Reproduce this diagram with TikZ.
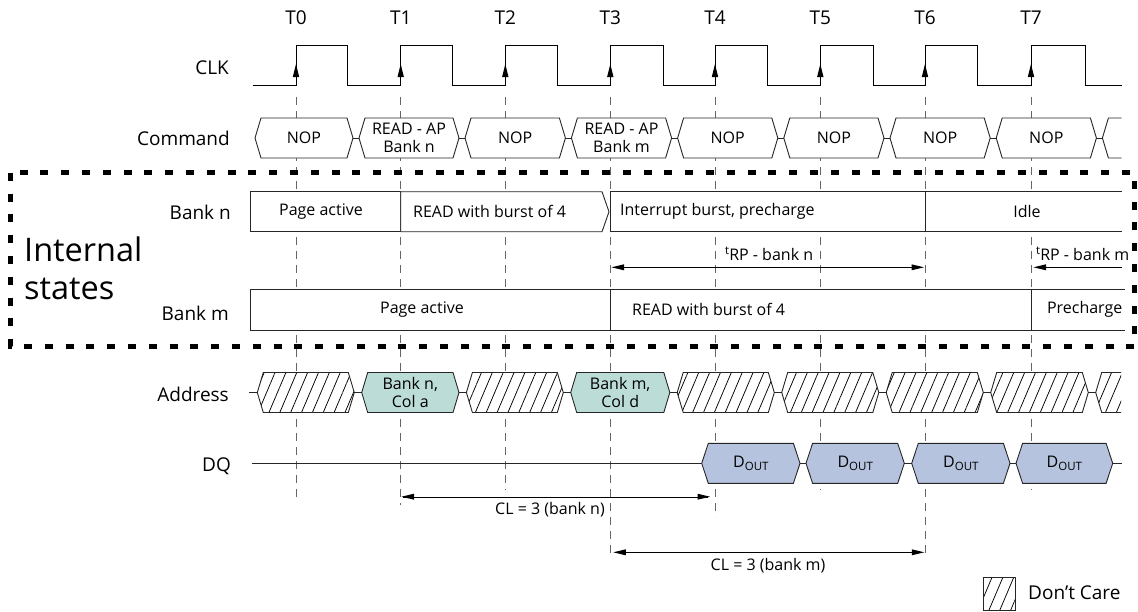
\documentclass[tikz,border=0pt]{standalone}
\usepackage{fontspec}
\setmainfont{Open Sans}
\usetikzlibrary{patterns.meta}
\definecolor{doutblue}{RGB}{181,195,222}
\definecolor{addrteal}{RGB}{188,221,215}
\begin{document}
\begin{tikzpicture}[x=1pt,y=1pt]
\tikzstyle{every node}+=[inner sep=0pt]
\tikzstyle{sig}=[font=\fontsize{19}{20}\selectfont,anchor=east]
\tikzstyle{val}=[font=\fontsize{16}{17.5}\selectfont,align=center]
\tikzstyle{edge}=[black!60,line width=0.8pt,dash pattern=on 8pt off 6pt]
\tikzstyle{bus}=[black!85,line width=0.9pt]
\tikzstyle{dc}=[bus,preaction={fill=white},pattern={Lines[angle=67,distance=10pt,line width=0.75pt]}]
\useasboundingbox (0,0) rectangle (1138,-611);
% clock edge lines
\draw [edge] (296,-97) -- (296,-502);
\draw [edge] (400.7,-97) -- (400.7,-505);
\draw [edge] (505.3,-97) -- (505.3,-490);
\draw [edge] (610.3,-97) -- (610.3,-555);
\draw [edge] (715,-97) -- (715,-517);
\draw [edge] (820.3,-97) -- (820.3,-490);
\draw [edge] (925,-97) -- (925,-555);
\draw [edge] (1031,-97) -- (1031,-490);
% clock
\node (t0) [font=\fontsize{19}{20}\selectfont] at (296,-17.5) {T0};
\node (t1) [font=\fontsize{19}{20}\selectfont] at (400.7,-17.5) {T1};
\node (t2) [font=\fontsize{19}{20}\selectfont] at (505.3,-17.5) {T2};
\node (t3) [font=\fontsize{19}{20}\selectfont] at (610.3,-17.5) {T3};
\node (t4) [font=\fontsize{19}{20}\selectfont] at (715,-17.5) {T4};
\node (t5) [font=\fontsize{19}{20}\selectfont] at (820.3,-17.5) {T5};
\node (t6) [font=\fontsize{19}{20}\selectfont] at (925,-17.5) {T6};
\node (t7) [font=\fontsize{19}{20}\selectfont] at (1031,-17.5) {T7};
\node (clk) [sig] at (229,-68) {CLK};
\draw [black, line width=1pt] (252.7,-85.7) -- (296,-85.7) -- (296,-45) -- (347.3,-45) -- (347.3,-85.7)
  -- (400.7,-85.7) -- (400.7,-45) -- (452.7,-45) -- (452.7,-85.7)
  -- (505.3,-85.7) -- (505.3,-45) -- (557.7,-45) -- (557.7,-85.7)
  -- (610.3,-85.7) -- (610.3,-45) -- (663.3,-45) -- (663.3,-85.7)
  -- (715,-85.7) -- (715,-45) -- (767.7,-45) -- (767.7,-85.7)
  -- (820.3,-85.7) -- (820.3,-45) -- (873.3,-45) -- (873.3,-85.7)
  -- (925,-85.7) -- (925,-45) -- (977.3,-45) -- (977.3,-85.7)
  -- (1031,-85.7) -- (1031,-45) -- (1085,-45) -- (1085,-85.7) -- (1121.7,-85.7);
\fill [black] (296,-64) -- (292.8,-77) -- (299.2,-77);
\fill [black] (400.7,-64) -- (397.5,-77) -- (403.9,-77);
\fill [black] (505.3,-64) -- (502.1,-77) -- (508.5,-77);
\fill [black] (610.3,-64) -- (607.1,-77) -- (613.5,-77);
\fill [black] (715,-64) -- (711.8,-77) -- (718.2,-77);
\fill [black] (820.3,-64) -- (817.1,-77) -- (823.5,-77);
\fill [black] (925,-64) -- (921.8,-77) -- (928.2,-77);
\fill [black] (1031,-64) -- (1027.8,-77) -- (1034.2,-77);
% command bus
\node (cmd) [sig] at (230,-138) {Command};
\draw [bus, fill=white] (255,-138) -- (261,-118) -- (347,-118) -- (353,-138) -- (347,-158) -- (261,-158) -- cycle;
\draw [bus, fill=white] (359,-138) -- (365,-118) -- (453,-118) -- (459,-138) -- (453,-158) -- (365,-158) -- cycle;
\draw [bus, fill=white] (465,-138) -- (471,-118) -- (559.4,-118) -- (565.4,-138) -- (559.4,-158) -- (471,-158) -- cycle;
\draw [bus, fill=white] (571.4,-138) -- (577.4,-118) -- (665.6,-118) -- (671.6,-138) -- (665.6,-158) -- (577.4,-158) -- cycle;
\draw [bus, fill=white] (677.6,-138) -- (683.6,-118) -- (771.8,-118) -- (777.8,-138) -- (771.8,-158) -- (683.6,-158) -- cycle;
\draw [bus, fill=white] (783.8,-138) -- (789.8,-118) -- (878,-118) -- (884,-138) -- (878,-158) -- (789.8,-158) -- cycle;
\draw [bus, fill=white] (890,-138) -- (896,-118) -- (984.2,-118) -- (990.2,-138) -- (984.2,-158) -- (896,-158) -- cycle;
\draw [bus, fill=white] (996.2,-138) -- (1002.2,-118) -- (1090.4,-118) -- (1096.4,-138) -- (1090.4,-158) -- (1002.2,-158) -- cycle;
\fill [white] (1102.4,-138) -- (1108.4,-118) -- (1121.5,-118) -- (1121.5,-158) -- (1108.4,-158) -- cycle;
\draw [bus] (1121.5,-118) -- (1108.4,-118) -- (1102.4,-138) -- (1108.4,-158) -- (1121.5,-158);
\draw [bus] (353,-138) -- (359,-138);
\draw [bus] (459,-138) -- (465,-138);
\draw [bus] (565.4,-138) -- (571.4,-138);
\draw [bus] (671.6,-138) -- (677.6,-138);
\draw [bus] (777.8,-138) -- (783.8,-138);
\draw [bus] (884,-138) -- (890,-138);
\draw [bus] (990.2,-138) -- (996.2,-138);
\draw [bus] (1096.4,-138) -- (1102.4,-138);
\node (nop0) [val] at (304,-138) {NOP};
\node (rdn) [val] at (409,-138) {READ - AP\\Bank n};
\node (nop2) [val] at (515.2,-138) {NOP};
\node (rdm) [val] at (621.5,-138) {READ - AP\\Bank m};
\node (nop4) [val] at (727.7,-138) {NOP};
\node (nop5) [val] at (833.9,-138) {NOP};
\node (nop6) [val] at (940.1,-138) {NOP};
\node (nop7) [val] at (1046.3,-138) {NOP};
% internal states, bank n
\node (bankn) [sig] at (231,-212) {Bank n};
\draw [bus, fill=white] (250.7,-191.7) rectangle (400.7,-231.7);
\draw [bus, fill=white] (400.7,-191.7) -- (602,-191.7) -- (609,-211.7) -- (602,-231.7) -- (400.7,-231.7) -- cycle;
\draw [bus, fill=white] (610.3,-191.7) rectangle (925,-231.7);
\fill [white] (925,-191.7) rectangle (1122,-231.7);
\draw [bus] (1122,-191.7) -- (925,-191.7) -- (925,-231.7) -- (1122,-231.7);
\node (pan) [val] at (321,-211.7) {Page active};
\node (rbn) [val, anchor=west] at (413,-211.7) {READ with burst of 4};
\node (ibp) [val, anchor=west] at (620,-211.7) {Interrupt burst, precharge};
\node (idle) [val] at (1027,-211.7) {Idle};
% tRP arrows
\draw [black] (613,-267.3) -- (922,-267.3);
\fill [black] (611.5,-267.3) -- (624,-264.3) -- (624,-270.3);
\fill [black] (924,-267.3) -- (911.5,-264.3) -- (911.5,-270.3);
\node (trpn) [val, anchor=base west] at (725,-260) {\raisebox{6pt}{\fontsize{11.5}{11.5}\selectfont t}RP - bank n};
\draw [black] (1036,-267.3) -- (1122,-267.3);
\fill [black] (1033.5,-267.3) -- (1046,-264.3) -- (1046,-270.3);
\node (trpm) [val, anchor=base west] at (1036,-260) {\raisebox{6pt}{\fontsize{11.5}{11.5}\selectfont t}RP - bank m};
% internal states, bank m
\node (bankm) [sig] at (229,-313.2) {Bank m};
\draw [bus, fill=white] (250.7,-289.3) rectangle (610.3,-330);
\draw [bus, fill=white] (610.3,-289.3) rectangle (1031,-330);
\fill [white] (1031,-289.3) rectangle (1125,-330);
\draw [bus] (1125,-289.3) -- (1031,-289.3) -- (1031,-330) -- (1125,-330);
\node (pam) [val] at (422,-309.7) {Page active};
\node (rbm) [val, anchor=west] at (632,-309.7) {READ with burst of 4};
\node (pre) [val] at (1084.7,-309.7) {Precharge};
\node (intst) [font=\fontsize{32.5}{38}\selectfont, anchor=base west] at (24,-261.7) {Internal};
\node (intst2) [font=\fontsize{32.5}{38}\selectfont, anchor=base west] at (24,-299.3) {states};
\draw [black, line width=5pt, dash pattern=on 8pt off 12.8pt] (10.7,-172.7) rectangle (1134.7,-346.7);
% address bus
\node (addr) [sig] at (229,-394.2) {Address};
\draw [bus] (249,-392.5) -- (257.3,-392.5);
\draw [dc] (257.3,-392.5) -- (263.3,-372.5) -- (348.3,-372.5) -- (354.3,-392.5) -- (348.3,-412.5) -- (263.3,-412.5) -- cycle;
\draw [bus, fill=addrteal] (361.7,-392.5) -- (367.7,-372.5) -- (453,-372.5) -- (459,-392.5) -- (453,-412.5) -- (367.7,-412.5) -- cycle;
\draw [dc] (466.4,-392.5) -- (472.4,-372.5) -- (557.3,-372.5) -- (563.3,-392.5) -- (557.3,-412.5) -- (472.4,-412.5) -- cycle;
\draw [bus, fill=addrteal] (570.7,-392.5) -- (576.7,-372.5) -- (663.8,-372.5) -- (669.8,-392.5) -- (663.8,-412.5) -- (576.7,-412.5) -- cycle;
\draw [dc] (677.2,-392.5) -- (683.2,-372.5) -- (768.3,-372.5) -- (774.3,-392.5) -- (768.3,-412.5) -- (683.2,-412.5) -- cycle;
\draw [dc] (781.7,-392.5) -- (787.7,-372.5) -- (872.8,-372.5) -- (878.8,-392.5) -- (872.8,-412.5) -- (787.7,-412.5) -- cycle;
\draw [dc] (886.2,-392.5) -- (892.2,-372.5) -- (977.3,-372.5) -- (983.3,-392.5) -- (977.3,-412.5) -- (892.2,-412.5) -- cycle;
\draw [dc] (990.7,-392.5) -- (996.7,-372.5) -- (1082.3,-372.5) -- (1088.3,-392.5) -- (1082.3,-412.5) -- (996.7,-412.5) -- cycle;
\fill [white, pattern={Lines[angle=67,distance=10pt,line width=0.75pt]}] (1095.7,-392.5) -- (1101.7,-372.5) -- (1121,-372.5) -- (1121,-412.5) -- (1101.7,-412.5) -- cycle;
\draw [bus] (1121,-372.5) -- (1101.7,-372.5) -- (1095.7,-392.5) -- (1101.7,-412.5) -- (1121,-412.5);
\draw [bus] (354.3,-392.5) -- (361.7,-392.5);
\draw [bus] (459,-392.5) -- (466.4,-392.5);
\draw [bus] (563.3,-392.5) -- (570.7,-392.5);
\draw [bus] (669.8,-392.5) -- (677.2,-392.5);
\draw [bus] (774.3,-392.5) -- (781.7,-392.5);
\draw [bus] (878.8,-392.5) -- (886.2,-392.5);
\draw [bus] (983.3,-392.5) -- (990.7,-392.5);
\draw [bus] (1088.3,-392.5) -- (1095.7,-392.5);
\node (coln) [val] at (410.3,-392.5) {Bank n,\\Col a};
\node (colm) [val] at (620.2,-392.5) {Bank m,\\Col d};
% DQ bus
\node (dq) [sig] at (231,-465.8) {DQ};
\draw [bus] (251.7,-463.3) -- (701.7,-463.3);
\draw [bus, fill=doutblue] (701.7,-463.3) -- (708.3,-443.3) -- (793.4,-443.3) -- (800,-463.3) -- (793.4,-483.3) -- (708.3,-483.3) -- cycle;
\draw [bus, fill=doutblue] (806,-463.3) -- (812.6,-443.3) -- (897.7,-443.3) -- (904.3,-463.3) -- (897.7,-483.3) -- (812.6,-483.3) -- cycle;
\draw [bus, fill=doutblue] (911.7,-463.3) -- (918.3,-443.3) -- (1003.4,-443.3) -- (1010,-463.3) -- (1003.4,-483.3) -- (918.3,-483.3) -- cycle;
\draw [bus, fill=doutblue] (1016,-463.3) -- (1022.6,-443.3) -- (1106.1,-443.3) -- (1112.7,-463.3) -- (1106.1,-483.3) -- (1022.6,-483.3) -- cycle;
\draw [bus] (800,-463.3) -- (806,-463.3);
\draw [bus] (904.3,-463.3) -- (911.7,-463.3);
\draw [bus] (1010,-463.3) -- (1016,-463.3);
\draw [bus] (1112.7,-463.3) -- (1121.7,-463.3);
\node (d4) [val] at (750.9,-463.3) {D\raisebox{-3.5pt}{\fontsize{11.5}{11.5}\selectfont OUT}};
\node (d5) [val] at (855.2,-463.3) {D\raisebox{-3.5pt}{\fontsize{11.5}{11.5}\selectfont OUT}};
\node (d6) [val] at (960.9,-463.3) {D\raisebox{-3.5pt}{\fontsize{11.5}{11.5}\selectfont OUT}};
\node (d7) [val] at (1064.4,-463.3) {D\raisebox{-3.5pt}{\fontsize{11.5}{11.5}\selectfont OUT}};
% CAS latency
\draw [black] (403,-496.7) -- (708,-496.7);
\fill [black] (401.5,-496.7) -- (414,-493.7) -- (414,-499.7);
\fill [black] (710,-496.7) -- (697.5,-493.7) -- (697.5,-499.7);
\node (cln) [val] at (550,-509.3) {CL = 3 (bank n)};
\draw [black] (615,-552.3) -- (922,-552.3);
\fill [black] (613.3,-552.3) -- (625.8,-549.3) -- (625.8,-555.3);
\fill [black] (924.3,-552.3) -- (911.8,-549.3) -- (911.8,-555.3);
\node (clm) [val] at (768,-565.7) {CL = 3 (bank m)};
% legend
\draw [dc] (983.3,-577) rectangle (1015,-610);
\node (dcare) [font=\fontsize{19}{20}\selectfont, anchor=west] at (1028,-593) {Don’t Care};
\end{tikzpicture}
\end{document}
